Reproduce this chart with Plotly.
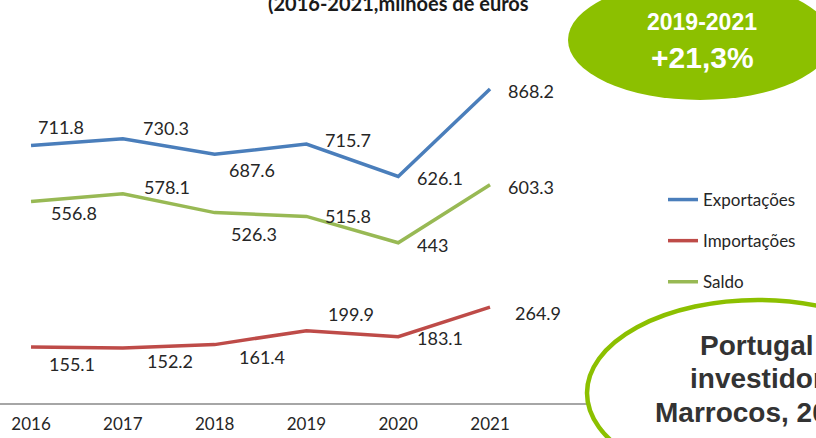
import plotly.graph_objects as go

# data (milhões de euros)
anos = ["2016", "2017", "2018", "2019", "2020", "2021"]
exportacoes = [711.8, 730.3, 687.6, 715.7, 626.1, 868.2]
importacoes = [155.1, 152.2, 161.4, 199.9, 183.1, 264.9]
saldo = [556.8, 578.1, 526.3, 515.8, 443, 603.3]

# label offsets in pixels (dx right, dy down), as placed in the original chart
off_exp = [(30, -19), (43, -11), (37, 16), (42, -4), (42, 1), (41, 2)]
off_imp = [(41, 17), (47, 13), (47, 12), (45, -17), (42, 1), (48, 6)]
off_sal = [(43, 11), (44, -7), (39, 21), (42, 0), (34, 2), (41, 2)]

W, H = 816, 438
FONT = "Lato"
TXT = "#262626"

series = [
    ("Exportações", exportacoes, "#4A7EBB", off_exp),
    ("Importações", importacoes, "#BE4B48", off_imp),
    ("Saldo", saldo, "#98B954", off_sal),
]

fig = go.Figure()
annotations = []
for name, vals, color, offs in series:
    fig.add_trace(go.Scatter(
        x=anos, y=vals, name=name, mode="lines", legendgroup=name,
        line=dict(color=color, width=3.5),
    ))
    # x given as category index (the year strings would be read as numbers)
    for i, (v, (dx, dy)) in enumerate(zip(vals, offs)):
        annotations.append(dict(
            x=i, y=v, xref="x", yref="y", text=f"{v:g}", showarrow=False,
            xanchor="center", yanchor="middle",
            xshift=dx, yshift=-dy, font=dict(family=FONT, size=18, color=TXT),
        ))


def paper_note(text, xpx, ypx, size, color, family="Liberation Sans", yanchor="middle"):
    return dict(x=xpx / W, y=1 - ypx / H, xref="paper", yref="paper", showarrow=False,
                xanchor="center", yanchor=yanchor, text=text,
                font=dict(family=family, size=size, color=color))


# cut-off title at the top
annotations.append(paper_note("<b>(2016-2021,milhões de euros</b>", 398, 17, 20, "#1a1a1a",
                              family=FONT, yanchor="bottom"))
# green badge
annotations.append(paper_note("<b>2019-2021</b>", 702, 22, 23, "white"))
annotations.append(paper_note("<b>+21,3%</b>", 702, 58, 30, "white"))
# outlined badge bottom right
for txt, ypx in [("Portugal", 345), ("investidor", 378), ("Marrocos, 2021", 412)]:
    annotations.append(paper_note(f"<b>{txt}</b>", 757, ypx, 28, "#333333"))

shapes = [
    dict(type="circle", xref="paper", yref="paper", layer="above",
         x0=(700 - 132) / W, x1=(700 + 132) / W, y0=1 - (40 + 60) / H, y1=1 - (40 - 60) / H,
         fillcolor="#8CC000", line=dict(width=0)),
    dict(type="circle", xref="paper", yref="paper", layer="above",
         x0=(758 - 171) / W, x1=(758 + 171) / W, y0=1 - (393 + 93) / H, y1=1 - (393 - 93) / H,
         fillcolor="white", line=dict(color="#8CC000", width=4.5)),
]

fig.update_layout(
    width=W, height=H,
    margin=dict(l=0, r=0, t=0, b=0),
    plot_bgcolor="white", paper_bgcolor="white",
    showlegend=True,
    legend=dict(x=663 / W, y=1 - 182 / H, xanchor="left", yanchor="top",
                bgcolor="rgba(0,0,0,0)", tracegroupgap=16,
                font=dict(family=FONT, size=17, color=TXT)),
    xaxis=dict(domain=[0, 600 / W], type="category", range=[-0.338, 6.198],
               showgrid=False, zeroline=False, showline=True, linecolor="#A6A6A6",
               linewidth=1.5, ticks="outside", ticklen=5, tickcolor="white",
               tickfont=dict(family=FONT, size=17, color=TXT)),
    yaxis=dict(domain=[35 / H, 1], range=[0, 1114], showgrid=False, zeroline=False,
               showline=False, showticklabels=False),
    annotations=annotations,
    shapes=shapes,
)

# drop the browser's default 8px body margin so the figure sits at the window corner
fig.write_html("out.html", config={"displayModeBar": False},
               post_script="document.body.style.margin='0';")
